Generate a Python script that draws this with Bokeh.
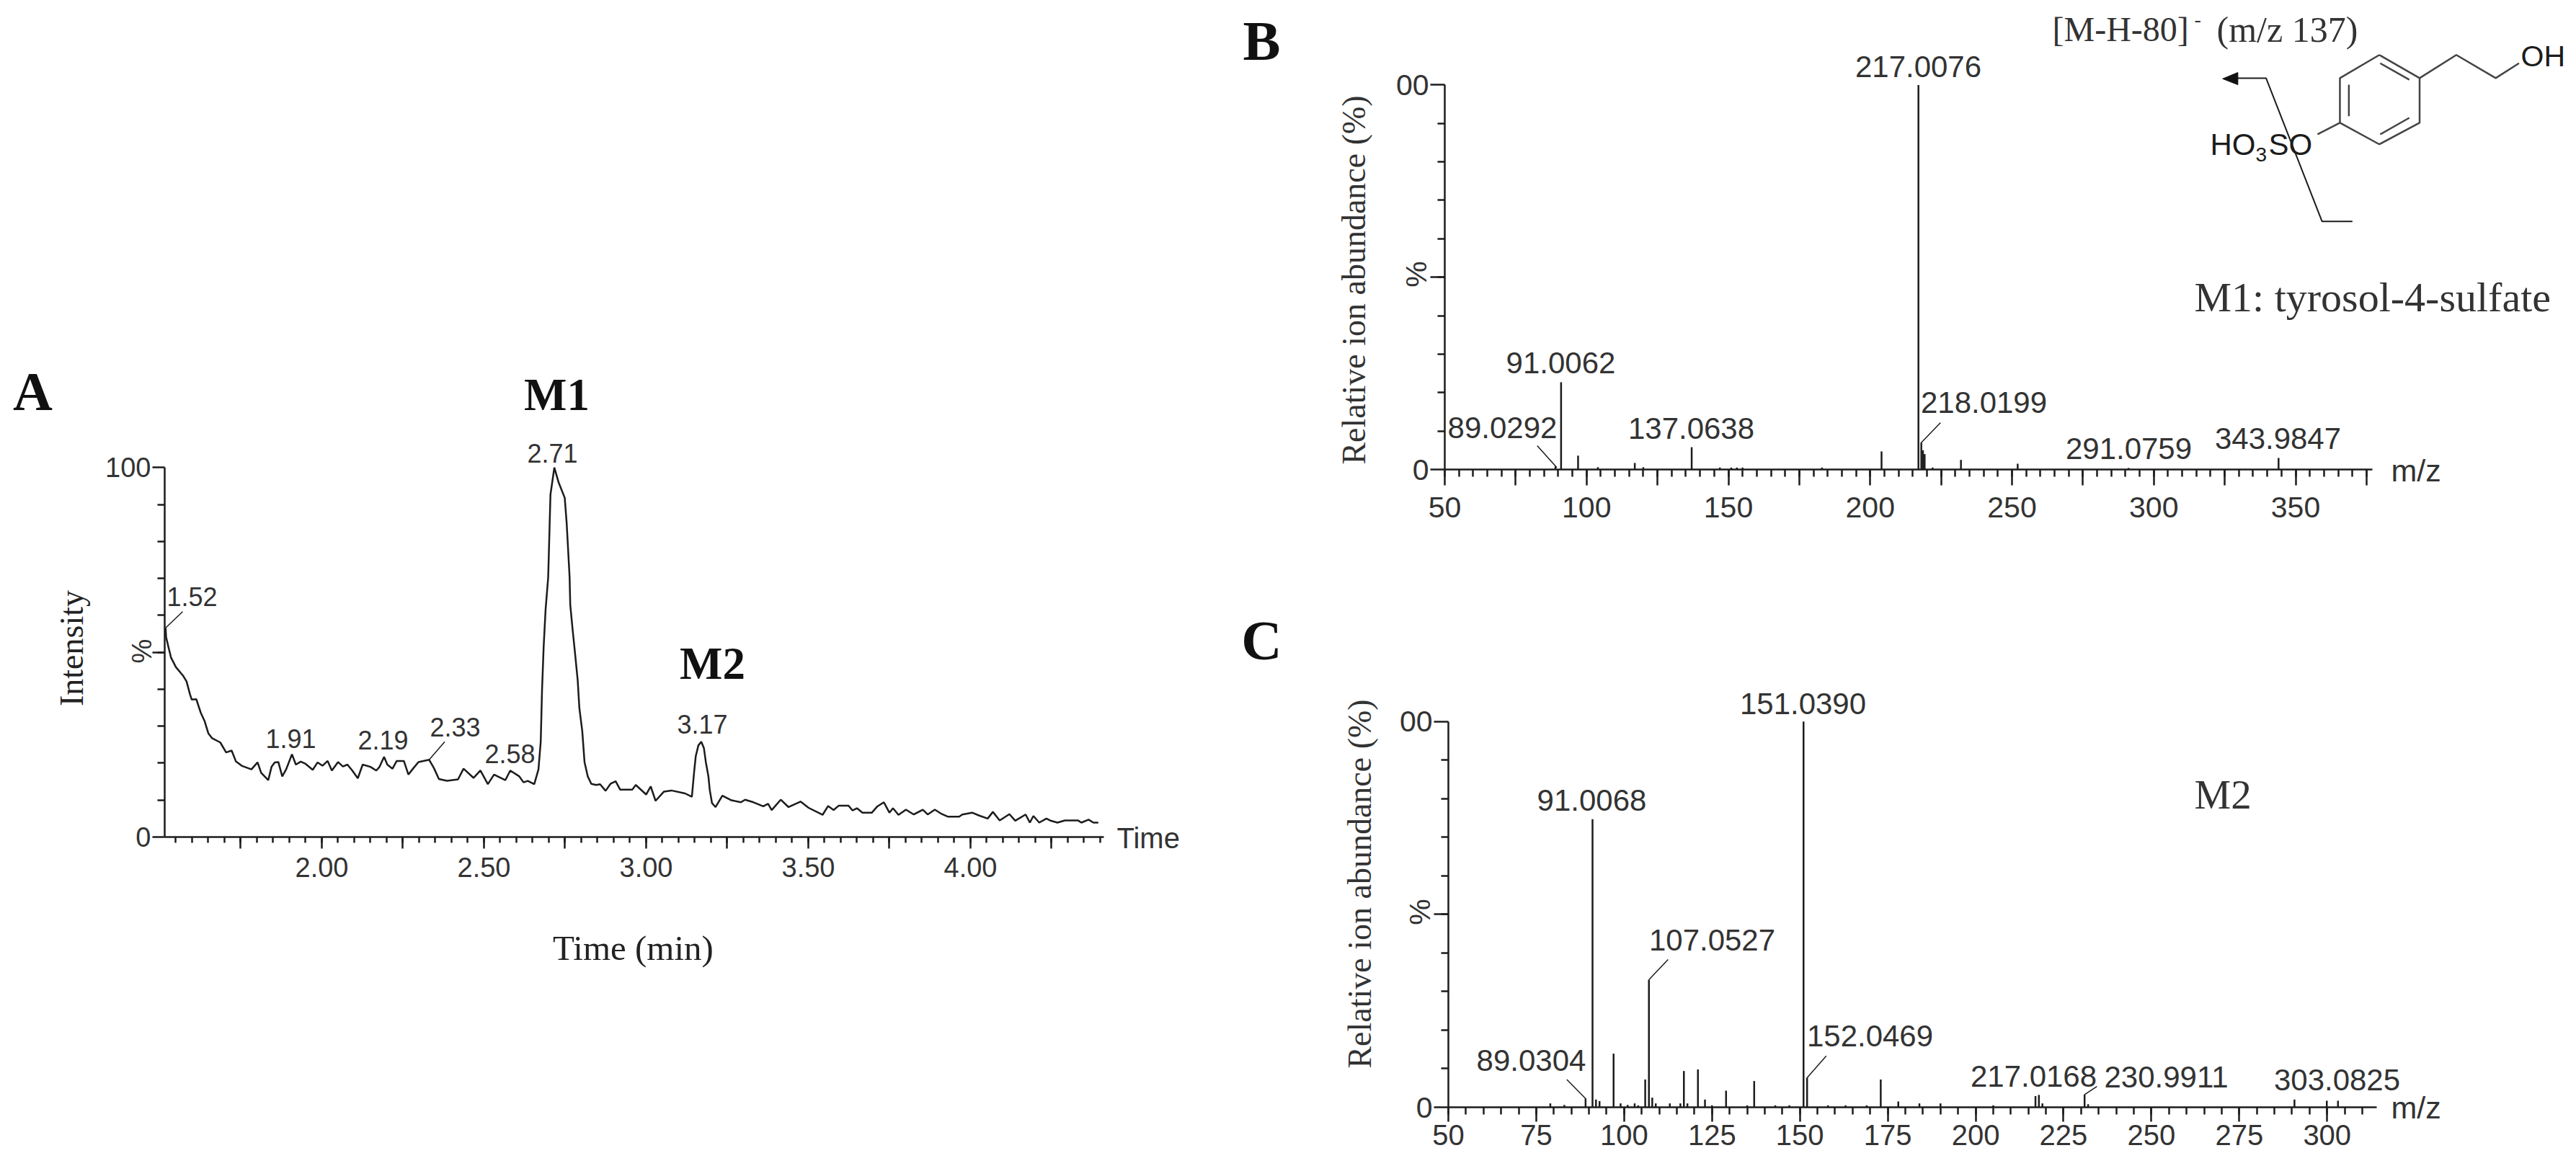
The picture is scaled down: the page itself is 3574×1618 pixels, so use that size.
from math import pi
from bokeh.embed import file_html
from bokeh.models import FixedTicker, Label, LinearAxis, Range1d
from bokeh.plotting import figure
from bokeh.resources import INLINE

# ---------- data ----------
chrom_time = [1.5185,1.52,1.527,1.535,1.55,1.572,1.583,1.594,1.599,1.613,1.627,1.639,1.65,1.661,1.687,1.705,1.722,1.735,1.753,1.783,
 1.802,1.813,1.835,1.845,1.855,1.866,1.878,1.89,1.908,1.92,1.935,1.95,1.972,1.987,2.002,2.018,2.031,2.05,2.065,2.079,
 2.094,2.111,2.126,2.15,2.168,2.178,2.192,2.202,2.218,2.231,2.253,2.267,2.283,2.298,2.331,2.346,2.361,2.386,2.42,2.437,
 2.468,2.489,2.512,2.531,2.566,2.581,2.609,2.622,2.635,2.655,2.668,2.675,2.679,2.684,2.69,2.698,2.705,2.717,2.73,2.749,
 2.755,2.764,2.766,2.773,2.781,2.789,2.794,2.803,2.81,2.82,2.831,2.846,2.858,2.875,2.89,2.906,2.92,2.957,2.968,3.0,
 3.014,3.029,3.055,3.078,3.12,3.141,3.148,3.153,3.161,3.17,3.178,3.184,3.192,3.196,3.203,3.214,3.235,3.261,3.292,3.305,
 3.331,3.361,3.376,3.387,3.415,3.439,3.476,3.501,3.544,3.561,3.578,3.594,3.624,3.636,3.65,3.667,3.696,3.713,3.733,3.75,
 3.761,3.778,3.801,3.825,3.853,3.868,3.89,3.912,3.931,3.965,3.975,4.005,4.027,4.053,4.069,4.09,4.12,4.138,4.17,4.183,
 4.194,4.212,4.234,4.245,4.268,4.291,4.331,4.342,4.364,4.379,4.394]
chrom_intensity = [56.6,54.1,51.5,48.6,46.0,43.7,42.1,38.5,37.2,37.3,33.6,31.3,28.1,26.8,25.6,22.9,23.4,20.5,19.3,18.3,
 20.2,17.4,15.4,19.0,20.2,20.3,16.4,18.3,22.4,19.6,20.4,19.8,18.2,20.2,19.3,20.6,18.0,20.3,19.1,19.6,
 18.0,15.9,19.6,19.0,18.0,19.0,21.7,19.6,18.5,20.6,20.6,16.9,18.7,20.3,20.9,18.6,15.7,15.2,15.6,18.5,
 16.0,18.0,14.3,16.9,15.4,18.0,16.4,14.8,15.2,14.3,18.3,25.8,39.8,51.5,61.6,70.35,92.7,100.0,96.0,91.8,
 84.9,70.35,62.9,56.4,49.5,42.4,35.0,28.7,20.3,16.4,14.4,14.1,14.3,12.5,14.4,15.1,12.8,12.8,14.1,11.5,
 13.7,9.8,12.3,12.6,11.8,10.9,17.7,21.9,24.8,25.8,24.1,20.3,16.4,12.8,9.2,8.1,11.2,10.0,9.4,10.1,
 9.4,8.3,9.0,7.3,10.1,8.1,9.6,7.9,6.0,8.4,7.3,8.5,8.5,7.2,7.8,6.6,6.6,8.3,9.4,6.6,
 7.8,6.0,7.4,6.1,7.4,6.1,7.4,6.2,5.5,5.5,6.1,6.6,5.8,5.0,6.8,4.5,6.2,4.4,6.1,3.9,
 5.7,3.9,5.0,4.5,3.9,4.5,4.5,3.9,4.7,3.9,3.9]
chrom_peak_labels = ["2.71", "1.52", "1.91", "2.19", "2.33", "2.58", "3.17"]

b_mz = [89.03,91.01,97,104,117,120,137.06,147,151,153,155,183,204,217.01,218.02,218.6,219.2,222,232,252,291.08,343.98]
b_abundance = [0.8,22.7,3.6,0.6,1.7,0.6,5.8,0.5,0.5,0.5,0.5,0.5,4.7,100,7,5,4,0.5,2.5,1.5,0.4,3]
b_peak_labels = ["217.0076","91.0062","89.0292","137.0638","218.0199","291.0759","343.9847"]

c_mz = [79,83,89.03,91.01,92,93,97,99,101,103,104,106,107.05,108,109,113,116,117,118,121,123,125,129,135,137,143,147,
        151.04,152.05,158,163,169,173,178,184,190,205,217.02,218,219,230.99,232,290.7,299.9,303.08]
c_abundance = [1,0.6,2.3,74.7,2,1.6,13.9,1,0.6,1,0.5,7.2,33,2.5,1,1,1,9.4,1,9.8,2,0.5,4.3,0.5,6.8,0.5,0.5,
               100,7.7,0.5,0.5,0.5,7.2,1.5,1,1,0.5,2.9,3.2,1,3.3,0.8,2,1.7,1.7]
c_peak_labels = ["151.0390","91.0068","107.0527","152.0469","89.0304","217.0168","230.9911","303.0825"]

INK = "#1c1c1c"
TXT = "#333333"
SANS = "Liberation Sans"
SERIF = "Liberation Serif"
W, H = 3574, 1618

p = figure(width=W, height=H, output_backend="svg", toolbar_location=None,
           x_range=Range1d(0, W), y_range=Range1d(H, 0), x_axis_type=None, y_axis_type=None,
           min_border=0, outline_line_color=None, background_fill_color="white", border_fill_color="white")
p.grid.visible = False


def panel(name, ax_left, ax_bottom, x0, sx, sy, x_end, xticks, xminor, xover, xfont, xstand, xmaj, xmin,
          yover, yfont, ymaj):
    xr, yr = name + "x", name + "y"
    p.extra_x_ranges[xr] = Range1d(x0 - ax_left / sx, x0 + (W - ax_left) / sx)
    p.extra_y_ranges[yr] = Range1d((ax_bottom - H) / sy, ax_bottom / sy)
    xa = LinearAxis(x_range_name=xr, y_range_name=yr, fixed_location=0, bounds=(x0, x_end),
                    ticker=FixedTicker(ticks=xticks, minor_ticks=xminor),
                    major_label_overrides=xover, major_label_text_font_size=xfont,
                    major_label_standoff=xstand, major_tick_out=xmaj, minor_tick_out=xmin)
    ya = LinearAxis(x_range_name=xr, y_range_name=yr, fixed_location=x0, bounds=(0, 100),
                    ticker=FixedTicker(ticks=[0, 50, 100], minor_ticks=list(range(10, 100, 10))),
                    major_label_overrides=yover, major_label_text_font_size=yfont,
                    major_label_standoff=2, major_tick_out=ymaj, minor_tick_out=10)
    for ax in (xa, ya):
        ax.axis_line_color = INK
        ax.axis_line_width = 2.5
        ax.major_tick_line_color = INK
        ax.major_tick_line_width = 2.5
        ax.minor_tick_line_color = INK
        ax.minor_tick_line_width = 2.5
        ax.major_tick_in = 0
        ax.minor_tick_in = 0
        ax.major_label_text_font = SANS
        ax.major_label_text_color = TXT
    p.add_layout(xa, "below")
    p.add_layout(ya, "left")
    return dict(x_range_name=xr, y_range_name=yr)


def text(px, py, s, size, font=SANS, align="center", style="normal", color=TXT, angle=0):
    p.add_layout(Label(x=px, y=py, x_units="data", y_units="data", text=s, text_font=font,
                       text_font_size=f"{size}px", text_align=align, text_baseline="middle",
                       text_font_style=style, text_color=color, angle=angle, angle_units="rad"))


# ---------- Panel A ----------
major_a = [1.75 + 0.25 * i for i in range(11)]
ra = panel("a", 228, 1161, 1.5156, 450.0, 5.127, 4.412, major_a, [round(1.55 + 0.05 * i, 2) for i in range(58)],
           {t: (f"{t:.2f}" if abs(t * 2 - round(t * 2)) < 1e-9 else "") for t in major_a}, "38px", 12, 16, 8,
           {0: "0", 50: "", 100: "100"}, "38px", 17)
p.line(chrom_time, chrom_intensity, line_color=INK, line_width=2.5, **ra)
p.segment([1.5185, 2.331], [56.6, 20.9], [1.571, 2.379], [61.0, 25.8], line_color=INK, line_width=1.5, **ra)
a_pos = [(766, 628), (266, 827), (403, 1024), (531, 1026), (631, 1008), (707, 1045), (974, 1004)]
for s, (x, y) in zip(chrom_peak_labels, a_pos):
    text(x, y, s, 36)
text(45, 542, "A", 76, SERIF, style="bold", color="#111111")
text(772, 547, "M1", 63, SERIF, style="bold", color="#111111")
text(988, 920, "M2", 63, SERIF, style="bold", color="#111111")
text(196, 903, "%", 38, angle=pi / 2)
text(99, 899, "Intensity", 46, SERIF, color="#222222", angle=pi / 2)
text(878, 1315, "Time (min)", 49, SERIF, color="#222222")
text(1549, 1162, "Time", 40, align="left")

# ---------- Panel B ----------
rb = panel("b", 2004, 651, 50.0, 3.935, 5.336, 377, [50 + 25 * i for i in range(14)],
           [50 + 5 * i for i in range(66)], {50 + 25 * i: (str(50 + 25 * i) if i % 2 == 0 else "") for i in range(14)},
           "41px", 16, 22, 10, {0: "0", 50: "", 100: "00"}, "41px", 20)
p.segment(b_mz, [0] * len(b_mz), b_mz, b_abundance, line_color=INK, line_width=2.5, **rb)
p.segment([82.6, 224.8], [6.2, 12.2], [89.5, 218.0], [0.5, 7.0], line_color=INK, line_width=1.5, **rb)
b_pos = [(2661, 92), (2165, 503), (2084, 593), (2346, 594), (2752, 558), (2953, 622), (3160, 608)]
for s, (x, y) in zip(b_peak_labels, b_pos):
    text(x, y, s, 42)
text(1750, 56, "B", 78, SERIF, style="bold", color="#111111")
text(1964, 380, "%", 41, angle=pi / 2)
text(1878, 388, "Relative ion abundance (%)", 46, SERIF, angle=pi / 2)
text(3317, 652, "m/z", 43, align="left")
text(2847, 40, "[M-H-80]", 48, SERIF, align="left")
text(3044, 26, "-", 28, SERIF, align="left")
text(3075, 40, "(m/z 137)", 50, SERIF, align="left")
text(3044, 412, "M1: tyrosol-4-sulfate", 58, SERIF, align="left")


def st(zx, zy):
    return (2600 + zx / 1.61, zy / 2.178)


def poly(pts, color="#444444", width=2.5):
    q = [st(*a) for a in pts]
    p.line([a for a, _ in q], [b for _, b in q], line_color=color, line_width=width)


# tyrosol-4-sulfate structure
poly([(1128, 165), (1218, 235), (1218, 370), (1128, 435), (1040, 370), (1040, 235), (1128, 165)])
poly([(1130, 190), (1195, 240)])
poly([(1195, 355), (1130, 405)])
poly([(1060, 255), (1060, 350)])
poly([(1218, 235), (1300, 165), (1388, 235), (1440, 190)])
poly([(1040, 370), (990, 405)])
poly([(810, 235), (875, 235), (1000, 668), (1068, 668)], color=INK, width=2)
arrow = [st(778, 237), st(812, 218), st(812, 255)]
p.patch([a for a, _ in arrow], [b for _, b in arrow], fill_color="#111111", line_color="#111111")
text(3497, 77, "OH", 41, align="left", color=INK)
text(3066, 200, "HO", 42, align="left", color=INK)
text(3129, 214, "3", 28, align="left", color=INK)
text(3147, 200, "SO", 42, align="left", color=INK)

# ---------- Panel C ----------
rc = panel("c", 2009, 1536, 50.0, 4.877, 5.353, 314, [50 + 25 * i for i in range(11)],
           [50 + 5 * i for i in range(53)], {}, "40px", 4, 20, 10, {0: "0", 50: "", 100: "00"}, "41px", 20)
p.segment(c_mz, [0] * len(c_mz), c_mz, c_abundance, line_color=INK, line_width=2.5, **rc)
p.segment([83.7, 112.5, 157.5, 234.5], [7.2, 38.3, 13.3, 5.4], [89.0, 107.0, 152.1, 231.0], [2.3, 33.0, 7.7, 3.3],
          line_color=INK, line_width=1.5, **rc)
c_pos = [(2501, 976), (2208, 1110), (2375, 1304), (2594, 1437), (2124, 1471), (2821, 1493), (3005, 1494), (3242, 1498)]
for s, (x, y) in zip(c_peak_labels, c_pos):
    text(x, y, s, 42)
text(1750, 888, "C", 78, SERIF, style="bold", color="#111111")
text(1969, 1265, "%", 41, angle=pi / 2)
text(1886, 1226, "Relative ion abundance (%)", 46, SERIF, angle=pi / 2)
text(3317, 1536, "m/z", 43, align="left")
text(3044, 1102, "M2", 57, SERIF, align="left")

open("out.html", "w").write(file_html(p, INLINE))
